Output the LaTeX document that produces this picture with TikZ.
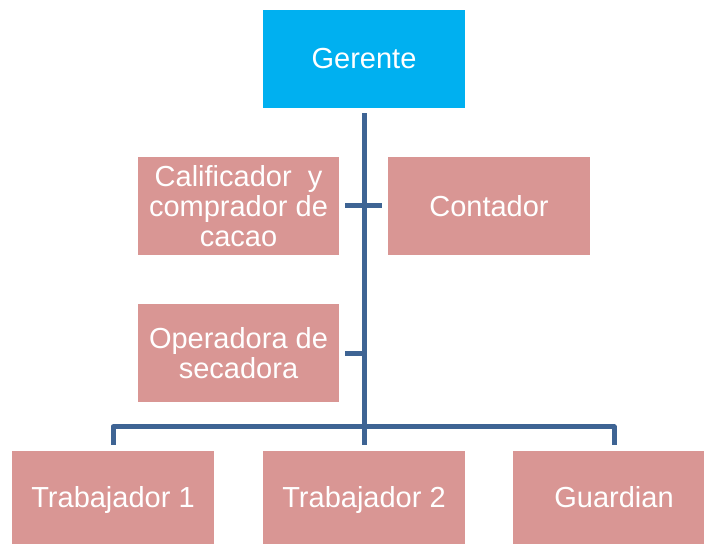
\documentclass[tikz,border=0pt]{standalone}
\usepackage{fontspec}
\setmainfont{Liberation Sans}
\definecolor{boss}{RGB}{0,176,240}
\definecolor{staff}{RGB}{217,150,148}
\definecolor{trunk}{RGB}{62,100,148}
\begin{document}
\begin{tikzpicture}[x=1bp,y=-1bp,line join=round,line cap=butt,
	box/.style={fill=staff,text=white,minimum width=201bp,minimum height=98bp,inner sep=0pt,align=center,
		font=\fontsize{29bp}{30bp}\selectfont},
	link/.style={draw=trunk,line width=5bp}]
	\useasboundingbox (0,0) rectangle (704,544);
	\node[box,fill=boss,minimum width=202bp] (ger) at (364,59) {Gerente};
	\node[box] (cal) at (238.5,206) {Calificador~ y\\comprador de\\cacao};
	\node[box,minimum width=202bp] (con) at (489,206) {Contador};
	\node[box] (ope) at (238.5,353) {Operadora de\\secadora};
	\foreach \i/\t/\p in {tr1/Trabajador 1/113,tr2/Trabajador 2/364,gua/Guardian/614}
	\node[box,minimum width=202bp,text height=21bp,text depth=6bp] (\i) at (\p,500) {\t};
	% lineas
	\draw[link] ([yshift=-5bp]ger.south) -- ([yshift=6bp]tr2.north);
	\draw[link,shorten <=6bp,shorten >=6bp] (cal.east) -- (con.west);
	\draw[link,shorten <=6bp] (ope.east) -- (ope.east-|ger.south);
	\draw[link] ([yshift=6bp]tr1.north) -- ++(0,-18) -| ([yshift=6bp]gua.north);
\end{tikzpicture}
\end{document}
